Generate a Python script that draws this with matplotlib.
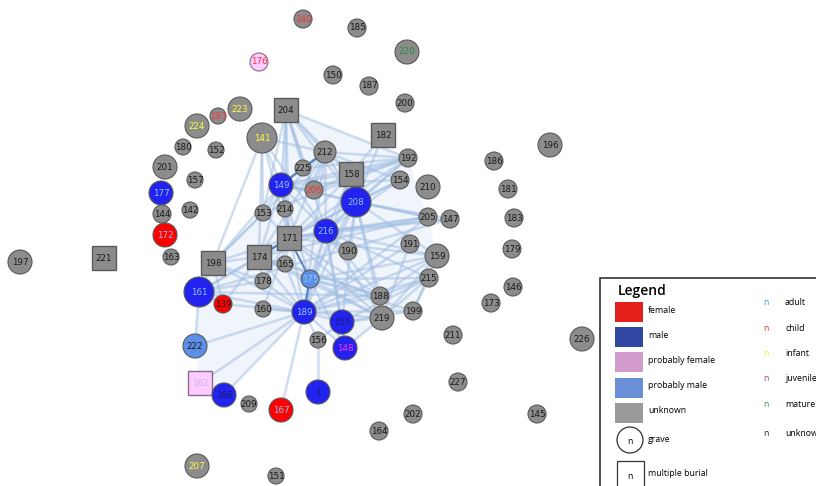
import matplotlib
matplotlib.use("Agg")
import matplotlib.pyplot as plt
from matplotlib.patches import Circle, Rectangle, Polygon

# ---------------- data ----------------
node_ids = ["140","185","220","176","150","187","200","204","223","193","224","141","182","180","152",
            "212","192","196","201","225","158","157","154","210","186","177","149","206","208","181",
            "144","142","153","214","205","147","183","172","216","171","190","191","159","179","163",
            "198","174","165","175","178","215","146","197","221","161","139","160","188","173","189",
            "219","199","155","211","226","156","148","222","162","166","1","209","227","167","202",
            "145","164","207","151"]
node_x = [303,357,407,259,333,369,405,286,240,218,197,262,383,183,216,
          325,408,550,165,303,351,195,400,428,494,161,281,314,356,508,
          162,190,263,285,428,450,514,165,326,289,348,410,437,512,171,
          213,259,285,310,263,429,513,20,104,199,223,263,380,491,304,
          382,413,342,453,582,318,345,195,200,224,318,249,458,281,413,
          537,379,197,276]
node_y = [19,28,52,62,75,86,103,110,109,116,126,138,135,147,150,
          152,158,145,167,168,174,180,180,187,161,193,185,190,202,189,
          214,210,213,209,217,219,218,235,231,238,251,244,256,249,257,
          263,257,264,279,281,278,287,262,258,292,304,309,296,303,312,
          318,311,322,335,339,340,348,346,383,395,392,404,382,410,414,
          414,431,466,476]
node_size = [9,9,12,9,9,9,9,12,12,8,12,15,12,8,8,
             11,9,12,12,8,12,8,9,12,9,12,12,9,15,9,
             9,8,8,8,9,9,9,12,12,12,9,9,12,9,8,
             12,12,8,9,8,9,9,12,12,15,9,8,9,9,12,
             12,9,12,9,12,8,12,12,12,12,12,8,9,12,9,
             9,9,12,8]
# sex: F female, M male, PF probably female, PM probably male, U unknown
node_sex = ["U","U","U","PF","U","U","U","U","U","U","U","U","U","U","U",
            "U","U","U","U","U","U","U","U","U","U","M","M","U","M","U",
            "U","U","U","U","U","U","U","F","M","U","U","U","U","U","U",
            "U","U","U","PM","U","U","U","U","U","M","F","U","U","U","M",
            "U","U","M","U","U","U","M","PM","PF","M","M","U","U","F","U",
            "U","U","U","U"]
# age: A adult, C child, I infant, J juvenile, Ma mature, U unknown
node_age = ["C","U","Ma","C","U","U","U","U","I","C","I","I","U","U","U",
            "U","U","U","U","U","U","U","U","U","U","A","A","C","A","U",
            "U","U","U","U","U","U","U","A","A","U","U","U","U","U","U",
            "U","U","U","A","U","U","U","U","U","A","U","U","U","U","A",
            "U","U","U","U","U","U","J","U","A","U","U","U","U","A","U",
            "U","U","I","U"]
multiple_burial = ["204","182","158","171","174","198","221","162"]

edges = [("204","149"),("204","212"),("204","158"),("204","208"),("204","216"),("204","171"),
         ("204","225"),("204","206"),("204","214"),("204","153"),("204","192"),
         ("141","149"),("141","212"),("141","153"),("141","198"),("141","174"),("141","171"),("141","216"),
         ("212","149"),("212","225"),("212","158"),("212","208"),("212","216"),("212","192"),
         ("212","154"),("212","206"),("212","171"),("212","174"),("212","198"),("212","189"),
         ("182","158"),("182","208"),
         ("192","149"),("192","225"),("192","158"),("192","208"),("192","216"),("192","171"),("192","206"),("192","153"),
         ("154","149"),("154","208"),("154","216"),("154","171"),
         ("158","149"),("158","208"),("158","216"),("158","171"),("158","206"),("158","189"),
         ("149","225"),("149","206"),("149","214"),("149","153"),("149","216"),("149","171"),
         ("149","174"),("149","198"),("149","208"),("149","189"),("149","175"),
         ("208","216"),("208","171"),("208","190"),("208","189"),("208","188"),("208","219"),
         ("208","159"),("208","205"),("208","147"),("208","175"),("208","155"),
         ("205","149"),("205","216"),("205","171"),("205","174"),("205","189"),
         ("147","216"),("147","171"),("147","161"),
         ("216","171"),("216","174"),("216","175"),("216","189"),("216","190"),("216","155"),
         ("216","148"),("216","219"),("216","188"),("216","215"),
         ("191","189"),("191","219"),
         ("159","189"),("159","175"),("159","171"),("159","188"),("159","219"),("159","216"),("159","199"),
         ("215","188"),("215","219"),("215","189"),("215","175"),("215","199"),("215","155"),
         ("188","189"),("188","175"),("188","171"),("188","174"),("188","165"),("188","161"),
         ("219","189"),("219","155"),("219","148"),("219","175"),("219","171"),("219","174"),
         ("199","189"),("199","175"),("199","155"),
         ("171","174"),("171","198"),("171","165"),("171","178"),("171","161"),("171","153"),("171","160"),
         ("174","198"),("174","178"),("174","165"),("174","175"),("174","189"),("174","161"),("174","139"),
         ("198","161"),("198","139"),("198","178"),("198","189"),("198","153"),
         ("161","222"),("161","139"),("161","189"),("161","178"),
         ("189","222"),("189","162"),("189","166"),("189","167"),("189","156"),("189","155"),
         ("189","148"),("189","139"),("189","160"),("189","178"),("189","165"),
         ("156","1"),("156","155"),("155","148"),("148","175")]
strong_edges = [("149","225"),("225","212"),("171","175"),("175","189"),("171","174")]
haze_outline = ["204","192","205","159","215","199","219","148","189","166","162","222","161","198","153","149"]

sex_labels = ["female","male","probably female","probably male","unknown"]
sex_keys = ["F","M","PF","PM","U"]
age_labels = ["adult","child","infant","juvenile","mature","unknown"]
age_keys = ["A","C","I","J","Ma","U"]

# ---------------- styles ----------------
node_fill = {"F":"#ff0000","M":"#2323f0","PF":"#ffccff","PM":"#5b8fe8","U":"#8c8c8c"}
swatch_fill = {"F":"#e3201c","M":"#2f47a0","PF":"#d39bcb","PM":"#6a8fd6","U":"#9a9a9a"}
age_color = {"A":"#8fc4f2","C":"#ff3030","I":"#ffff40","J":"#ff30ff","Ma":"#2a8a40","U":"#1a1a1a"}
legend_age_color = {"A":"#2aa0d8","C":"#e03030","I":"#f0f020","J":"#a03a9a","Ma":"#30a050","U":"#222222"}

fig = plt.figure(figsize=(8.16, 4.86), dpi=100)
ax = fig.add_axes([0, 0, 1, 1])
ax.set_xlim(0, 816)
ax.set_ylim(486, 0)
ax.set_aspect("auto")
ax.axis("off")

pos = {n: (x, y) for n, x, y in zip(node_ids, node_x, node_y)}

# haze
ax.add_patch(Polygon([pos[n] for n in haze_outline], closed=True, facecolor="#e2ebf8",
                     edgecolor="none", alpha=0.5, zorder=0))

for a, b in edges:
    (x1, y1), (x2, y2) = pos[a], pos[b]
    ax.plot([x1, x2], [y1, y2], color="#9fbde3", lw=1.8, alpha=0.5, zorder=1,
            solid_capstyle="round")
for a, b in strong_edges:
    (x1, y1), (x2, y2) = pos[a], pos[b]
    ax.plot([x1, x2], [y1, y2], color="#3a70b8", lw=1.5, alpha=0.8, zorder=1)

for n, x, y, s, sx, ag in zip(node_ids, node_x, node_y, node_size, node_sex, node_age):
    fc = node_fill[sx]
    ec = "#5a5a5a" if sx != "PF" else "#8a6a8a"
    if n in multiple_burial:
        ax.add_patch(Rectangle((x - s, y - s), 2 * s, 2 * s, facecolor=fc, edgecolor=ec,
                               lw=1.0, zorder=3))
    else:
        ax.add_patch(Circle((x, y), s, facecolor=fc, edgecolor=ec, lw=0.8, zorder=3))
    tc = age_color[ag]
    if sx == "PF" and ag == "A":
        tc = "#c8b4e8"
    if sx in ("M",) and ag == "U":
        tc = "#1a1a6a"
    ax.text(x, y, n, ha="center", va="center", fontsize=6.3, color=tc,
            family="DejaVu Sans", zorder=4)

# ---------------- legend ----------------
ax.add_patch(Rectangle((600, 278), 230, 220, facecolor="white", edgecolor="#333333",
                       lw=1.2, zorder=5, clip_on=False))
lf = "Open Sans"
ax.text(618, 291, "Legend", fontsize=10, family=lf, fontweight="semibold",
        ha="left", va="center", zorder=6)
for i, (lab, key) in enumerate(zip(sex_labels, sex_keys)):
    y0 = 302 + i * 25.2
    ax.add_patch(Rectangle((615, y0), 28, 20, facecolor=swatch_fill[key], edgecolor="none", zorder=6))
    ax.text(648, y0 + 8, lab, fontsize=6.3, family=lf, ha="left", va="center", zorder=6)
ax.add_patch(Circle((630, 440), 13, facecolor="white", edgecolor="#333333", lw=0.9, zorder=6))
ax.text(630, 441, "n", fontsize=6.3, family=lf, ha="center", va="center", zorder=7)
ax.text(648, 439, "grave", fontsize=6.3, family=lf, ha="left", va="center", zorder=6)
ax.add_patch(Rectangle((617, 461), 27, 30, facecolor="white", edgecolor="#333333", lw=0.9,
                       zorder=6, clip_on=True))
ax.text(630, 476, "n", fontsize=6.3, family=lf, ha="center", va="center", zorder=7)
ax.text(648, 473, "multiple burial", fontsize=6.3, family=lf, ha="left", va="center", zorder=6)
age_y = [302, 328, 353, 378, 404, 433]
for lab, key, yy in zip(age_labels, age_keys, age_y):
    ax.text(763, yy, "n", fontsize=6.3, family=lf, color=legend_age_color[key],
            ha="left", va="center", zorder=6)
    ax.text(785, yy, lab, fontsize=6.3, family=lf, ha="left", va="center", zorder=6)

fig.savefig("out.png", dpi=100)
